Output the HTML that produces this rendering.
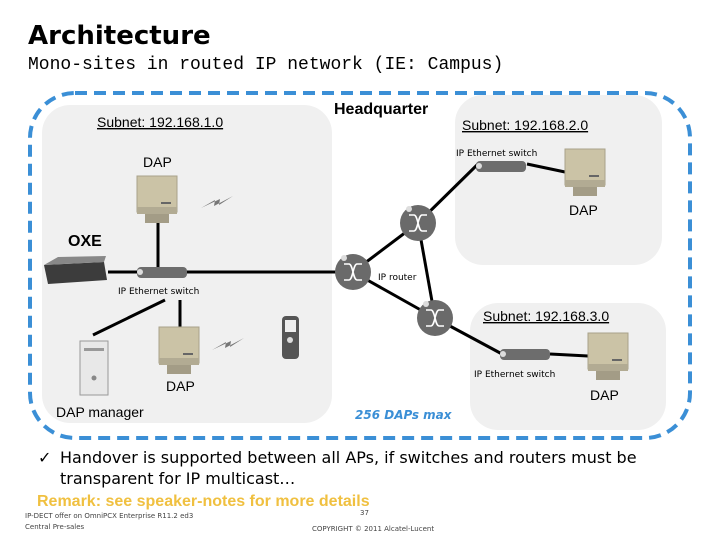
<!DOCTYPE html>
<html><head><style>
body{margin:0;width:720px;height:540px;overflow:hidden;background:#fff;font-family:"DejaVu Sans","Liberation Sans",sans-serif;}
</style></head><body>
<svg width="720" height="540" viewBox="0 0 720 540" xmlns="http://www.w3.org/2000/svg">
<defs>
<g id="dap"><rect x="0" y="0" width="40" height="36" fill="#cbc3a6" stroke="#a9a28a"/><rect x="0" y="31" width="40" height="7" fill="#b2ab93"/><rect x="8" y="38" width="24" height="9" fill="#a39c86"/><rect x="24" y="26" width="10" height="2" fill="#666"/></g>
<g id="rt"><circle r="18" fill="#6a6a6a"/><path d="M-9,-8 H-4 C0,-8 0,8 4,8 H9 M-9,8 H-4 C0,8 0,-8 4,-8 H9" stroke="#fff" stroke-width="1.6" fill="none"/><circle cx="-9" cy="-14" r="3" fill="#ddd"/></g>
<g id="sw"><rect x="0" y="-5" width="50" height="11" rx="4" fill="#6d6d6d"/><circle cx="3" cy="0" r="3" fill="#ddd"/></g>
<g id="bolt"><path d="M0,12 L14,4 L13,10 L32,0 L18,9 L19,3 Z" fill="#777"/></g>
</defs>
<text x="28" y="44" font-size="26" font-weight="bold" fill="#000">Architecture</text>
<text x="28" y="69" font-size="18" font-family="Liberation Mono,monospace" fill="#000">Mono-sites in routed IP network (IE: Campus)</text>
<rect x="30" y="93" width="660" height="345" rx="45" fill="none" stroke="#3b8fd6" stroke-width="4" stroke-dasharray="12,7"/>
<rect x="42" y="105" width="290" height="318" rx="28" fill="#f0f0f0"/>
<rect x="455" y="95" width="207" height="170" rx="28" fill="#f0f0f0"/>
<rect x="470" y="303" width="196" height="127" rx="28" fill="#f0f0f0"/>
<g stroke="#000" stroke-width="3" fill="none">
<line x1="158" y1="223" x2="158" y2="272"/>
<line x1="108" y1="272" x2="353" y2="272"/>
<line x1="353" y1="272" x2="418" y2="223"/>
<line x1="418" y1="223" x2="478" y2="164"/>
<line x1="418" y1="223" x2="435" y2="318"/>
<line x1="353" y1="272" x2="435" y2="318"/>
<line x1="435" y1="318" x2="502" y2="354"/>
<line x1="527" y1="164" x2="565" y2="172"/>
<line x1="550" y1="354" x2="588" y2="356"/>
<line x1="165" y1="300" x2="93" y2="335"/>
<line x1="180" y1="300" x2="180" y2="328"/>
</g>
<use href="#sw" x="137" y="272"/>
<use href="#sw" x="476" y="166"/>
<use href="#sw" x="500" y="354"/>
<use href="#rt" x="418" y="223"/>
<use href="#rt" x="353" y="272"/>
<use href="#rt" x="435" y="318"/>
<use href="#dap" x="137" y="176"/>
<use href="#dap" x="565" y="149"/>
<use href="#dap" x="159" y="327"/>
<use href="#dap" x="588" y="333"/>
<use href="#bolt" x="201" y="196"/>
<use href="#bolt" x="212" y="338"/>
<path d="M44,265 L104,262 L107,280 L48,284 Z" fill="#3c3c3c"/><path d="M44,265 L58,257 L106,256 L104,262 Z" fill="#888"/>
<rect x="80" y="341" width="28" height="54" fill="#e8e8e8" stroke="#999"/><rect x="84" y="348" width="20" height="3" fill="#999"/><circle cx="94" cy="378" r="2.5" fill="#888"/>
<rect x="282" y="316" width="17" height="43" rx="4" fill="#555"/><rect x="285" y="320" width="11" height="12" fill="#eee"/><circle cx="290" cy="340" r="3" fill="#ddd"/>
<g font-size="14" fill="#000" font-family="Liberation Sans,sans-serif">
<text x="97" y="127" text-decoration="underline">Subnet: 192.168.1.0</text>
<text x="462" y="130" text-decoration="underline">Subnet: 192.168.2.0</text>
<text x="483" y="321" text-decoration="underline">Subnet: 192.168.3.0</text>
<text x="143" y="167">DAP</text>
<text x="569" y="215">DAP</text>
<text x="166" y="391">DAP</text>
<text x="590" y="400">DAP</text>
<text x="56" y="417">DAP manager</text>
</g>
<text x="334" y="114" font-size="16" font-weight="bold" font-family="Liberation Sans,sans-serif">Headquarter</text>
<text x="68" y="246" font-size="16" font-weight="bold" font-family="Liberation Sans,sans-serif">OXE</text>
<g font-size="9" fill="#000"><text x="456" y="156">IP Ethernet switch</text><text x="118" y="294">IP Ethernet switch</text><text x="474" y="377">IP Ethernet switch</text><text x="378" y="280">IP router</text></g>
<text x="355" y="419" font-size="12" font-weight="bold" font-style="italic" fill="#3b8fd6">256 DAPs max</text>
<text x="38" y="463" font-size="16" fill="#000">✓</text>
<text x="60" y="463" font-size="16" fill="#000">Handover is supported between all APs, if switches and routers must be</text>
<text x="60" y="484" font-size="16" fill="#000">transparent for IP multicast…</text>
<text x="37" y="506" font-size="16" font-weight="bold" font-family="Liberation Sans,sans-serif" fill="#f0c040">Remark: see speaker-notes for more details</text>
<g font-size="7" fill="#444"><text x="25" y="518">IP-DECT offer on OmniPCX Enterprise R11.2 ed3</text><text x="25" y="529">Central Pre-sales</text><text x="360" y="515">37</text><text x="312" y="531">COPYRIGHT © 2011 Alcatel-Lucent</text></g>
</svg>
</body></html>
